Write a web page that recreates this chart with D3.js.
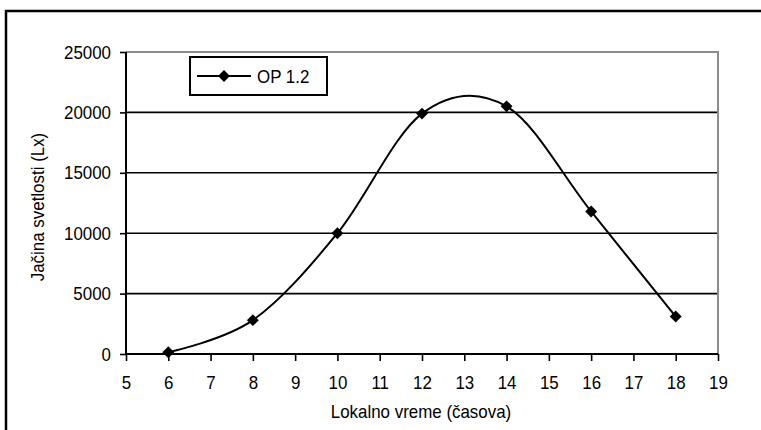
<!DOCTYPE html>
<html lang="sr">
<head>
<meta charset="UTF-8">
<title>OP 1.2</title>
<script src="https://d3js.org/d3.v7.min.js"></script>
<style>
  body { margin: 0; background: #fff; }
  svg text { font-family: "Liberation Sans", Arial, sans-serif; fill: #000; }
</style>
</head>
<body>
<script>
const hours = [6, 8, 10, 12, 14, 16, 18];
const lux = [150, 2800, 10000, 19900, 20500, 11800, 3100];
const xTicks = [5, 6, 7, 8, 9, 10, 11, 12, 13, 14, 15, 16, 17, 18, 19];
const yTicks = [0, 5000, 10000, 15000, 20000, 25000];
const seriesName = "OP 1.2";

const width = 761, height = 430;
const plotL = 126, plotR = 718, plotT = 52, plotB = 354;
const fontFam = "'Liberation Sans', Arial, sans-serif";
const fs = 19;

const svg = d3.select("body").append("svg")
    .attr("width", width).attr("height", height);

// outer chart frame (runs off the right and bottom edges)
svg.append("rect")
    .attr("x", 6).attr("y", 11)
    .attr("width", 800).attr("height", 500)
    .attr("fill", "none").attr("stroke", "#000").attr("stroke-width", 2.5);

const x = d3.scaleLinear().domain([5, 19]).range([plotL, plotR]);
const y = d3.scaleLinear().domain([0, 25000]).range([plotB, plotT]);

// grid lines
svg.selectAll(".grid")
    .data(yTicks.filter(d => d > 0 && d < 25000))
    .enter().append("line")
    .attr("x1", plotL).attr("x2", plotR)
    .attr("y1", d => y(d)).attr("y2", d => y(d))
    .attr("stroke", "#000").attr("stroke-width", 1.6);

// plot area border top / right (grey)
svg.append("path")
    .attr("d", `M${plotL},${y(25000)}H${plotR}V${plotB}`)
    .attr("fill", "none").attr("stroke", "#8c8c8c").attr("stroke-width", 2);

// axes
const yAxis = svg.append("g")
    .attr("transform", `translate(${plotL},0)`)
    .call(d3.axisLeft(y).tickValues(yTicks).tickSize(6).tickPadding(9).tickFormat(d3.format("d")));
const xAxis = svg.append("g")
    .attr("transform", `translate(0,${plotB})`)
    .call(d3.axisBottom(x).tickValues(xTicks).tickSize(7).tickPadding(15).tickFormat(d3.format("d")));

[yAxis, xAxis].forEach(g => {
  g.attr("font-family", fontFam).attr("font-size", fs);
  g.select(".domain").attr("stroke", "#000").attr("stroke-width", 2);
  g.selectAll(".tick line").attr("stroke", "#000").attr("stroke-width", 1.6);
  g.selectAll(".tick text").attr("fill", "#000");
});
yAxis.select(".domain").attr("d", `M0,${plotT}V${plotB}`);
xAxis.select(".domain").attr("d", `M${plotL},0H${plotR}`);

// axis titles
svg.append("text")
    .attr("x", 421).attr("y", 418)
    .attr("text-anchor", "middle").attr("font-size", fs)
    .text("Lokalno vreme (časova)");
svg.append("text")
    .attr("transform", "translate(44,207) rotate(-90)")
    .attr("text-anchor", "middle").attr("font-size", fs)
    .text("Jačina svetlosti (Lx)");

// series
const pts = hours.map((h, i) => [h, lux[i]]);
svg.append("path")
    .datum(pts)
    .attr("d", d3.line().x(d => x(d[0])).y(d => y(d[1])).curve(d3.curveCardinal.tension(0)))
    .attr("fill", "none").attr("stroke", "#000").attr("stroke-width", 2);

const diamond = d3.symbol().type(d3.symbolDiamond2).size(90);
svg.selectAll(".pt")
    .data(pts)
    .enter().append("path")
    .attr("d", diamond)
    .attr("transform", d => `translate(${x(d[0])},${y(d[1])})`)
    .attr("fill", "#000");

// legend
const lg = svg.append("g").attr("transform", "translate(190,57)");
lg.append("rect").attr("width", 137).attr("height", 38)
    .attr("fill", "#fff").attr("stroke", "#000").attr("stroke-width", 2);
lg.append("line").attr("x1", 7).attr("x2", 61).attr("y1", 19).attr("y2", 19)
    .attr("stroke", "#000").attr("stroke-width", 2);
lg.append("path").attr("d", diamond).attr("transform", "translate(34,19)").attr("fill", "#000");
lg.append("text").attr("x", 67).attr("y", 26).attr("font-size", fs).text(seriesName);

// the original lettering is a horizontally squeezed Arial
svg.selectAll("text").each(function () {
  const w = this.getComputedTextLength();
  d3.select(this).attr("textLength", w * 0.89).attr("lengthAdjust", "spacingAndGlyphs");
});
</script>
</body>
</html>
